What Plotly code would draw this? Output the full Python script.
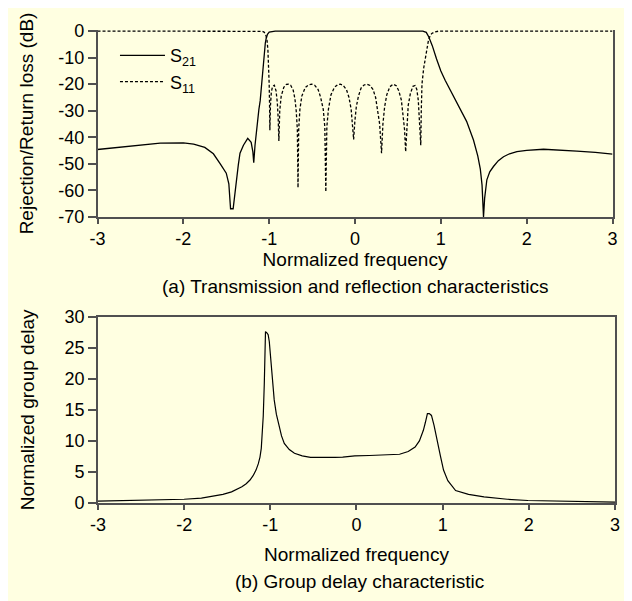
import plotly.graph_objects as go

# ---------------- data ----------------
freq_s21 = [-3.0, -2.6, -2.27, -2.0, -1.88, -1.75, -1.65, -1.57, -1.5, -1.47, -1.45, -1.42,
            -1.4, -1.38, -1.36, -1.34, -1.3, -1.25, -1.21, -1.19, -1.18, -1.165, -1.15, -1.136,
            -1.12, -1.105, -1.09, -1.075, -1.06, -1.045, -1.035, -1.02, -1.0, -0.97, -0.93,
            0.79, 0.83, 0.86, 0.9, 0.95, 1.0, 1.05, 1.1, 1.2, 1.3, 1.38, 1.43, 1.46, 1.48,
            1.497, 1.51, 1.536, 1.57, 1.613, 1.67, 1.73, 1.8, 1.886, 2.0, 2.196, 2.4, 2.585,
            2.8, 3.0]
s21_db = [-44.6, -43.2, -42.2, -42.1, -42.6, -43.8, -46.2, -50, -53.5, -57.5, -66.9, -66.9,
          -61, -56, -50.5, -46, -43, -40.4, -41.9, -45.5, -49.6, -43, -38, -33.8,
          -29.5, -26.3, -20, -14, -9, -4.5, -2.8, -1.2, -0.4, -0.1, 0,
          0, -0.5, -2.2, -5.5, -10.5, -15, -18.5, -21.5, -27.5, -34, -41, -47, -52, -58,
          -70, -63, -56, -53, -51, -48.8, -47.3, -46.2, -45.4, -44.9, -44.5, -44.8, -45.2,
          -45.7, -46.3]

freq_s11 = [-3.0, -1.1, -1.08, -1.06, -1.045, -1.035, -1.025, -1.015, -1.005, -1.0, -0.996, -0.992,
            -0.985, -0.975, -0.96, -0.94, -0.92, -0.905, -0.895, -0.887,
            -0.877, -0.86, -0.83, -0.80, -0.777, -0.75, -0.72, -0.70, -0.685, -0.672, -0.664,
            -0.656, -0.642, -0.62, -0.58, -0.54, -0.504, -0.47, -0.43, -0.40, -0.37, -0.352, -0.34,
            -0.328, -0.31, -0.28, -0.24, -0.20, -0.172, -0.14, -0.10, -0.07, -0.045, -0.03, -0.016,
            -0.002, 0.015, 0.04, 0.07, 0.105, 0.14, 0.175, 0.21, 0.24, 0.265, 0.287, 0.309,
            0.325, 0.345, 0.37, 0.405, 0.445, 0.48, 0.51, 0.54, 0.56, 0.577, 0.59,
            0.603, 0.62, 0.645, 0.675, 0.70, 0.72, 0.737, 0.752, 0.766,
            0.772, 0.78, 0.80, 0.817, 0.84, 0.856, 0.875, 0.895, 0.93, 0.98, 3.0]
s11_db = [0, 0, -0.1, -0.4, -1.0, -2.0, -3.5, -7, -14, -20, -27, -37.3,
          -28, -23, -20.8, -20.4, -22.5, -27, -33, -41.4,
          -30, -24.5, -21.2, -20.1, -20, -20.4, -22.3, -25.5, -30, -37, -59,
          -37, -29.5, -24.5, -21.3, -20.2, -20, -20.4, -22, -25, -29.5, -36, -60.5,
          -36, -29.5, -24, -21.2, -20.1, -20, -20.4, -22, -25, -29.5, -34, -40.8,
          -34, -28.5, -24.5, -21.5, -20.3, -20, -20.5, -22, -25, -29.5, -35, -46,
          -35, -28.5, -24, -21, -20, -20.6, -22.5, -26, -31, -37, -45.4,
          -35, -28, -23.5, -20.8, -20.5, -22, -26, -33, -43,
          -30, -20, -14, -10.9, -6.5, -3.4, -1.8, -0.9, -0.3, 0, 0]

freq_gd = [-3.0, -2.5, -2.0, -1.8, -1.66, -1.55, -1.45, -1.38, -1.33, -1.28, -1.236, -1.2,
           -1.166, -1.14, -1.12, -1.105, -1.095, -1.082, -1.07, -1.062, -1.056, -1.04, -1.025,
           -1.012, -1.0, -0.99, -0.975, -0.955, -0.93, -0.908, -0.87, -0.838, -0.78, -0.72,
           -0.63, -0.534, -0.394, -0.25, -0.16, -0.02, 0.15, 0.31, 0.5, 0.6, 0.68, 0.73,
           0.776, 0.8, 0.823, 0.845, 0.87, 0.9, 0.94, 0.975, 1.01, 1.06, 1.15, 1.3, 1.48,
           1.75, 1.99, 2.5, 3.0]
group_delay = [0.3, 0.4, 0.6, 0.8, 1.1, 1.4, 1.8, 2.2, 2.6, 3.1, 3.7, 4.4,
               5.3, 6.3, 7.4, 8.8, 10.5, 14, 19.2, 24.5, 27.6, 27.4, 27.1,
               26, 24, 21.9, 19, 16.6, 14.3, 12.8, 10.8, 9.6, 8.6, 8.0,
               7.6, 7.35, 7.3, 7.35, 7.4, 7.6, 7.65, 7.7, 7.85, 8.3, 9.0, 10.0,
               11.7, 13.0, 14.4, 14.4, 14.1, 12.5, 10.1, 7.5, 5.3, 3.6, 2.0, 1.4, 1.0,
               0.6, 0.4, 0.25, 0.15]

x_ticks = [-3, -2, -1, 0, 1, 2, 3]
x_tick_labels = ["-3", "-2", "-1", "0", "1", "2", "3"]
y1_ticks = [0, -10, -20, -30, -40, -50, -60, -70]
y1_tick_labels = ["0", "-10", "-20", "-30", "-40", "-50", "-60", "-70"]
y2_ticks = [0, 5, 10, 15, 20, 25, 30]
y2_tick_labels = ["0", "5", "10", "15", "20", "25", "30"]

# ---------------- styling ----------------
BG = "#FFFFE1"
AX = "#505050"
FONT = "Liberation Sans, Arial, sans-serif"
TS = 19  # title / caption font size

fig = go.Figure()
fig.add_trace(go.Scatter(x=freq_s21, y=s21_db, mode="lines", name="S<sub>21</sub>",
                         line=dict(color="black", width=1.3), xaxis="x", yaxis="y"))
fig.add_trace(go.Scatter(x=freq_s11, y=s11_db, mode="lines", name="S<sub>11</sub>",
                         line=dict(color="black", width=1.3, dash="3px,2px"), xaxis="x", yaxis="y"))
fig.add_trace(go.Scatter(x=freq_gd, y=group_delay, mode="lines", showlegend=False,
                         line=dict(color="black", width=1.2), xaxis="x2", yaxis="y2"))

common = dict(showline=True, linecolor=AX, linewidth=1.5, ticks="outside", tickcolor=AX,
              tickwidth=1.5, showgrid=False, zeroline=False,
              tickfont=dict(size=18, color="black", family=FONT))

fig.update_layout(
    width=632, height=601,
    margin=dict(l=89, r=25, t=22, b=106),
    paper_bgcolor=BG, plot_bgcolor=BG,
    font=dict(family=FONT, size=18, color="black"),
    xaxis=dict(domain=[0.001, 0.9952], anchor="y", range=[-3, 3],
               tickvals=x_ticks, ticktext=x_tick_labels, ticklen=5, mirror=False,
               title=dict(text="Normalized frequency", font=dict(size=TS), standoff=3), **common),
    yaxis=dict(domain=[0.6047, 1.0], anchor="x", range=[-70, 0.4],
               tickvals=y1_ticks, ticktext=y1_tick_labels, ticklen=8, mirror=True,
               title=dict(text="Rejection/Return loss (dB)", font=dict(size=TS), standoff=19), **common),
    xaxis2=dict(domain=[0.0019, 1.0], anchor="y2", range=[-3, 3],
                tickvals=x_ticks, ticktext=x_tick_labels, ticklen=5, mirror=True,
                title=dict(text="Normalized frequency", font=dict(size=TS), standoff=13), **common),
    yaxis2=dict(domain=[0.0, 0.3939], anchor="x2", range=[0, 30],
                tickvals=y2_ticks, ticktext=y2_tick_labels, ticklen=8, mirror=True,
                title=dict(text="Normalized group delay", font=dict(size=TS), standoff=25), **common),
    legend=dict(x=0.0347, y=0.985, xanchor="left", yanchor="top", bgcolor="rgba(0,0,0,0)",
                font=dict(size=18), itemwidth=45, tracegroupgap=0),
    showlegend=True,
    annotations=[
        dict(text="(a) Transmission and reflection characteristics", xref="paper", yref="paper",
             x=0.498, y=1 - (278 - 22) / 473, xanchor="center", yanchor="middle",
             showarrow=False, font=dict(size=TS)),
        dict(text="(b) Group delay characteristic", xref="paper", yref="paper",
             x=0.5068, y=1 - (573 - 22) / 473, xanchor="center", yanchor="middle",
             showarrow=False, font=dict(size=TS)),
    ],
)

fig.write_html("out.html")
